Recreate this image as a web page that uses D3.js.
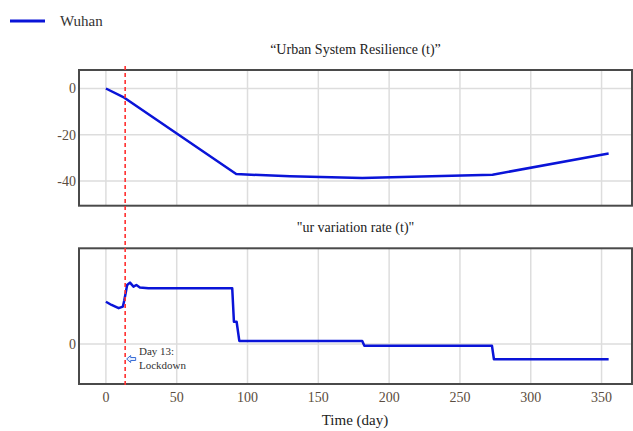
<!DOCTYPE html>
<html>
<head>
<meta charset="utf-8">
<script src="https://cdn.jsdelivr.net/npm/d3@7"></script>
<style>
  body { margin: 0; background: #fff; }
  text { font-family: "Liberation Serif", "Times New Roman", serif; }
</style>
</head>
<body>
<svg id="chart" width="633" height="431"></svg>
<script>
// Urban System Resilience (t)
const resDays = [0, 13, 92, 130, 181, 230, 273, 355];
const resValues = [0, -4, -37, -38, -38.7, -38, -37.3, -28.1];

// ur variation rate (t)
const rateDays = [0, 4, 9, 12, 13, 15, 17, 19.5, 21.5, 24, 30, 89.2, 90.4, 92.3, 94.2, 181, 182.5, 272.6, 274, 355];
const rateValues = [0.53, 0.49, 0.45, 0.47, 0.55, 0.74, 0.77, 0.72, 0.74, 0.71, 0.70, 0.70, 0.28, 0.28, 0.04, 0.04, -0.02, -0.02, -0.19, -0.19];

const xTicks = [0, 50, 100, 150, 200, 250, 300, 350];
const resTicks = [0, -20, -40];
const rateTicks = [0];
const lockdownDay = 13.6;
const seriesName = "Wuhan";

const svg = d3.select("#chart");
const blue = "#0a14d8";

const x = d3.scaleLinear().domain([-19, 371.5]).range([79, 632]);
const yTop = d3.scaleLinear().domain([8, -50.7]).range([70, 205.7]);
const yBot = d3.scaleLinear().domain([1.2, -0.5]).range([248.3, 384]);

function panel(y, ticks, days, vals, title, titleY) {
  const g = svg.append("g");
  const [top, bottom] = y.range();
  // grid
  g.selectAll(".vg").data(xTicks).enter().append("line")
    .attr("x1", d => x(d)).attr("x2", d => x(d))
    .attr("y1", top).attr("y2", bottom)
    .attr("stroke", "#ddd").attr("stroke-width", 1.5);
  g.selectAll(".hg").data(ticks).enter().append("line")
    .attr("x1", x.range()[0]).attr("x2", x.range()[1])
    .attr("y1", d => y(d)).attr("y2", d => y(d))
    .attr("stroke", "#ddd").attr("stroke-width", 1.5);
  // y labels
  g.selectAll(".yl").data(ticks).enter().append("text")
    .attr("x", 76).attr("y", d => y(d) + 5)
    .attr("text-anchor", "end")
    .attr("font-size", 14).attr("fill", "#5b4d40")
    .text(d => d);
  // frame
  g.append("rect")
    .attr("x", x.range()[0]).attr("y", top)
    .attr("width", x.range()[1] - x.range()[0]).attr("height", bottom - top)
    .attr("fill", "none").attr("stroke", "#4a4a4a").attr("stroke-width", 2);
  // series
  const line = d3.line().x(d => x(d[0])).y(d => y(d[1]));
  g.append("path")
    .datum(days.map((d, i) => [d, vals[i]]))
    .attr("d", line)
    .attr("fill", "none").attr("stroke", blue).attr("stroke-width", 2.5)
    .attr("stroke-linejoin", "round");
  // title
  svg.append("text")
    .attr("x", (x.range()[0] + x.range()[1]) / 2).attr("y", titleY)
    .attr("text-anchor", "middle").attr("font-size", 14).attr("fill", "#222")
    .text(title);
}

panel(yTop, resTicks, resDays, resValues, "\u201cUrban System Resilience (t)\u201d", 54);
panel(yBot, rateTicks, rateDays, rateValues, "\"ur variation rate (t)\"", 232);

// x axis labels
svg.selectAll(".xl").data(xTicks).enter().append("text")
  .attr("x", d => x(d)).attr("y", 402)
  .attr("text-anchor", "middle").attr("font-size", 14).attr("fill", "#5b4d40")
  .text(d => d);
svg.append("text")
  .attr("x", 355).attr("y", 425)
  .attr("text-anchor", "middle").attr("font-size", 15).attr("fill", "#222")
  .text("Time (day)");

// lockdown marker
svg.append("line")
  .attr("x1", x(lockdownDay)).attr("x2", x(lockdownDay))
  .attr("y1", 66).attr("y2", 386)
  .attr("stroke", "#ff3030").attr("stroke-width", 1.6)
  .attr("stroke-dasharray", "4,3");

const ax = x(lockdownDay) + 1.5, ay = 359;
svg.append("path")
  .attr("d", `M${ax},${ay} l4,-3.5 v2 h5 v3 h-5 v2 z`)
  .attr("fill", "#e8f0ff").attr("stroke", "#3b6fd6").attr("stroke-width", 1);
svg.append("text").attr("x", 139).attr("y", 355)
  .attr("font-size", 11).attr("fill", "#333").text("Day 13:");
svg.append("text").attr("x", 139).attr("y", 369)
  .attr("font-size", 11).attr("fill", "#333").text("Lockdown");

// legend
svg.append("line")
  .attr("x1", 10).attr("x2", 45).attr("y1", 21).attr("y2", 21)
  .attr("stroke", blue).attr("stroke-width", 3);
svg.append("text").attr("x", 60).attr("y", 26)
  .attr("font-size", 15).attr("fill", "#333").text(seriesName);
</script>
</body>
</html>
